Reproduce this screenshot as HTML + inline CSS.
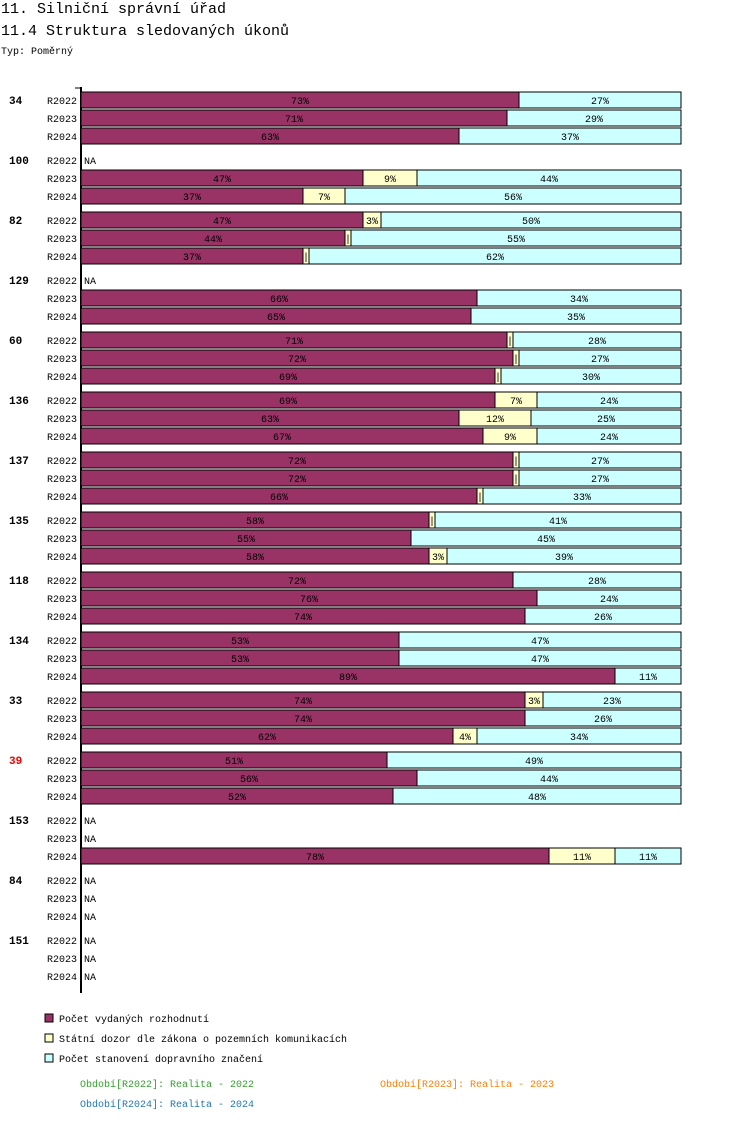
<!DOCTYPE html>
<html><head><meta charset="utf-8"><style>
body{margin:0;background:#fff;width:750px;height:1142px;overflow:hidden}
svg text{font-family:"Liberation Mono","DejaVu Sans Mono",monospace}
</style></head><body>
<svg id="c" width="750" height="1142" xmlns="http://www.w3.org/2000/svg">
<text x="1" y="13" font-size="15">11. Silniční správní úřad</text>
<text x="1" y="35" font-size="15">11.4 Struktura sledovaných úkonů</text>
<text x="1" y="54" font-size="10">Typ: Poměrný</text>
<line x1="81" y1="87" x2="81" y2="993" stroke="#000" stroke-width="2"/>
<line x1="75" y1="88" x2="81" y2="88" stroke="#000"/>
<g id="bars"></g>
<rect x="45" y="1014" width="8" height="8" fill="#993366" stroke="#000"/>
<text x="59" y="1022" font-size="10">Počet vydaných rozhodnutí</text>
<rect x="45" y="1034" width="8" height="8" fill="#ffffcc" stroke="#000"/>
<text x="59" y="1042" font-size="10">Státní dozor dle zákona o pozemních komunikacích</text>
<rect x="45" y="1054" width="8" height="8" fill="#ccffff" stroke="#000"/>
<text x="59" y="1062" font-size="10">Počet stanovení dopravního značení</text>
<text x="80" y="1087" font-size="10" fill="#33a02c">Období[R2022]: Realita - 2022</text>
<text x="380" y="1087" font-size="10" fill="#ff7f00">Období[R2023]: Realita - 2023</text>
<text x="80" y="1107" font-size="10" fill="#1f78b4">Období[R2024]: Realita - 2024</text>
</svg>
<script>
const groups=["34","100","82","129","60","136","137","135","118","134","33","39","153","84","151"];
const years=["R2022","R2023","R2024"];
const decisions=[[73,71,63],[null,47,37],[47,44,37],[null,66,65],[71,72,69],[69,63,67],[72,72,66],[58,55,58],[72,76,74],[53,53,89],[74,74,62],[51,56,52],[null,null,78],[null,null,null],[null,null,null]];
const supervision=[[0,0,0],[null,9,7],[3,1,1],[null,0,0],[1,1,1],[7,12,9],[1,1,1],[1,0,3],[0,0,0],[0,0,0],[3,0,4],[0,0,0],[null,null,11],[null,null,null],[null,null,null]];
const signage=[[27,29,37],[null,44,56],[50,55,62],[null,34,35],[28,27,30],[24,25,24],[27,27,33],[41,45,39],[28,24,26],[47,47,11],[23,26,34],[49,44,48],[null,null,11],[null,null,null],[null,null,null]];
const highlight=["39"];
const NS="http://www.w3.org/2000/svg";
const X0=81,W=600;
const xs=v=>v/100*W;
const rowY=(g,r)=>100+g*60+r*18;
const g=document.getElementById('bars');
const colors=["#993366","#ffffcc","#ccffff"];
const names=["decisions","supervision","signage"];
function mk(tag,attrs){const e=document.createElementNS(NS,tag);for(const k in attrs)e.setAttribute(k,attrs[k]);return e;}
groups.forEach((name,gi)=>{
  const gl=mk('text',{x:9,y:rowY(gi,0)+4,'font-size':11,'font-weight':'bold',fill:highlight.includes(name)?'#e00':'#000'});
  gl.textContent=name;
  
  
  g.appendChild(gl);
  years.forEach((yr,ri)=>{
    const y=rowY(gi,ri);
    const yl=mk('text',{x:47,y:y+4,'font-size':10});
    yl.textContent=yr;
    
    
    g.appendChild(yl);
    const vals=[decisions[gi][ri],supervision[gi][ri],signage[gi][ri]];
    if(vals[0]===null){
      const na=mk('text',{x:84,y:y+4,'font-size':10});
      na.textContent='NA';
      
      
      g.appendChild(na);
      return;
    }
    let cum=0;
    vals.forEach((v,si)=>{
      if(!v)return;
      const x=X0+xs(cum),w=xs(v);
      const r=mk('rect',{x:x,y:y-8,width:w,height:16,fill:colors[si],stroke:'#000','stroke-width':1});
      
      
      g.appendChild(r);
      const t=mk('text',{x:x+w/2,y:y+4,'font-size':10,'text-anchor':'middle'});
      t.textContent=w>=18?v+'%':'|';
      
      
      g.appendChild(t);
      cum+=v;
    });
  });
});
</script>
</body></html>
